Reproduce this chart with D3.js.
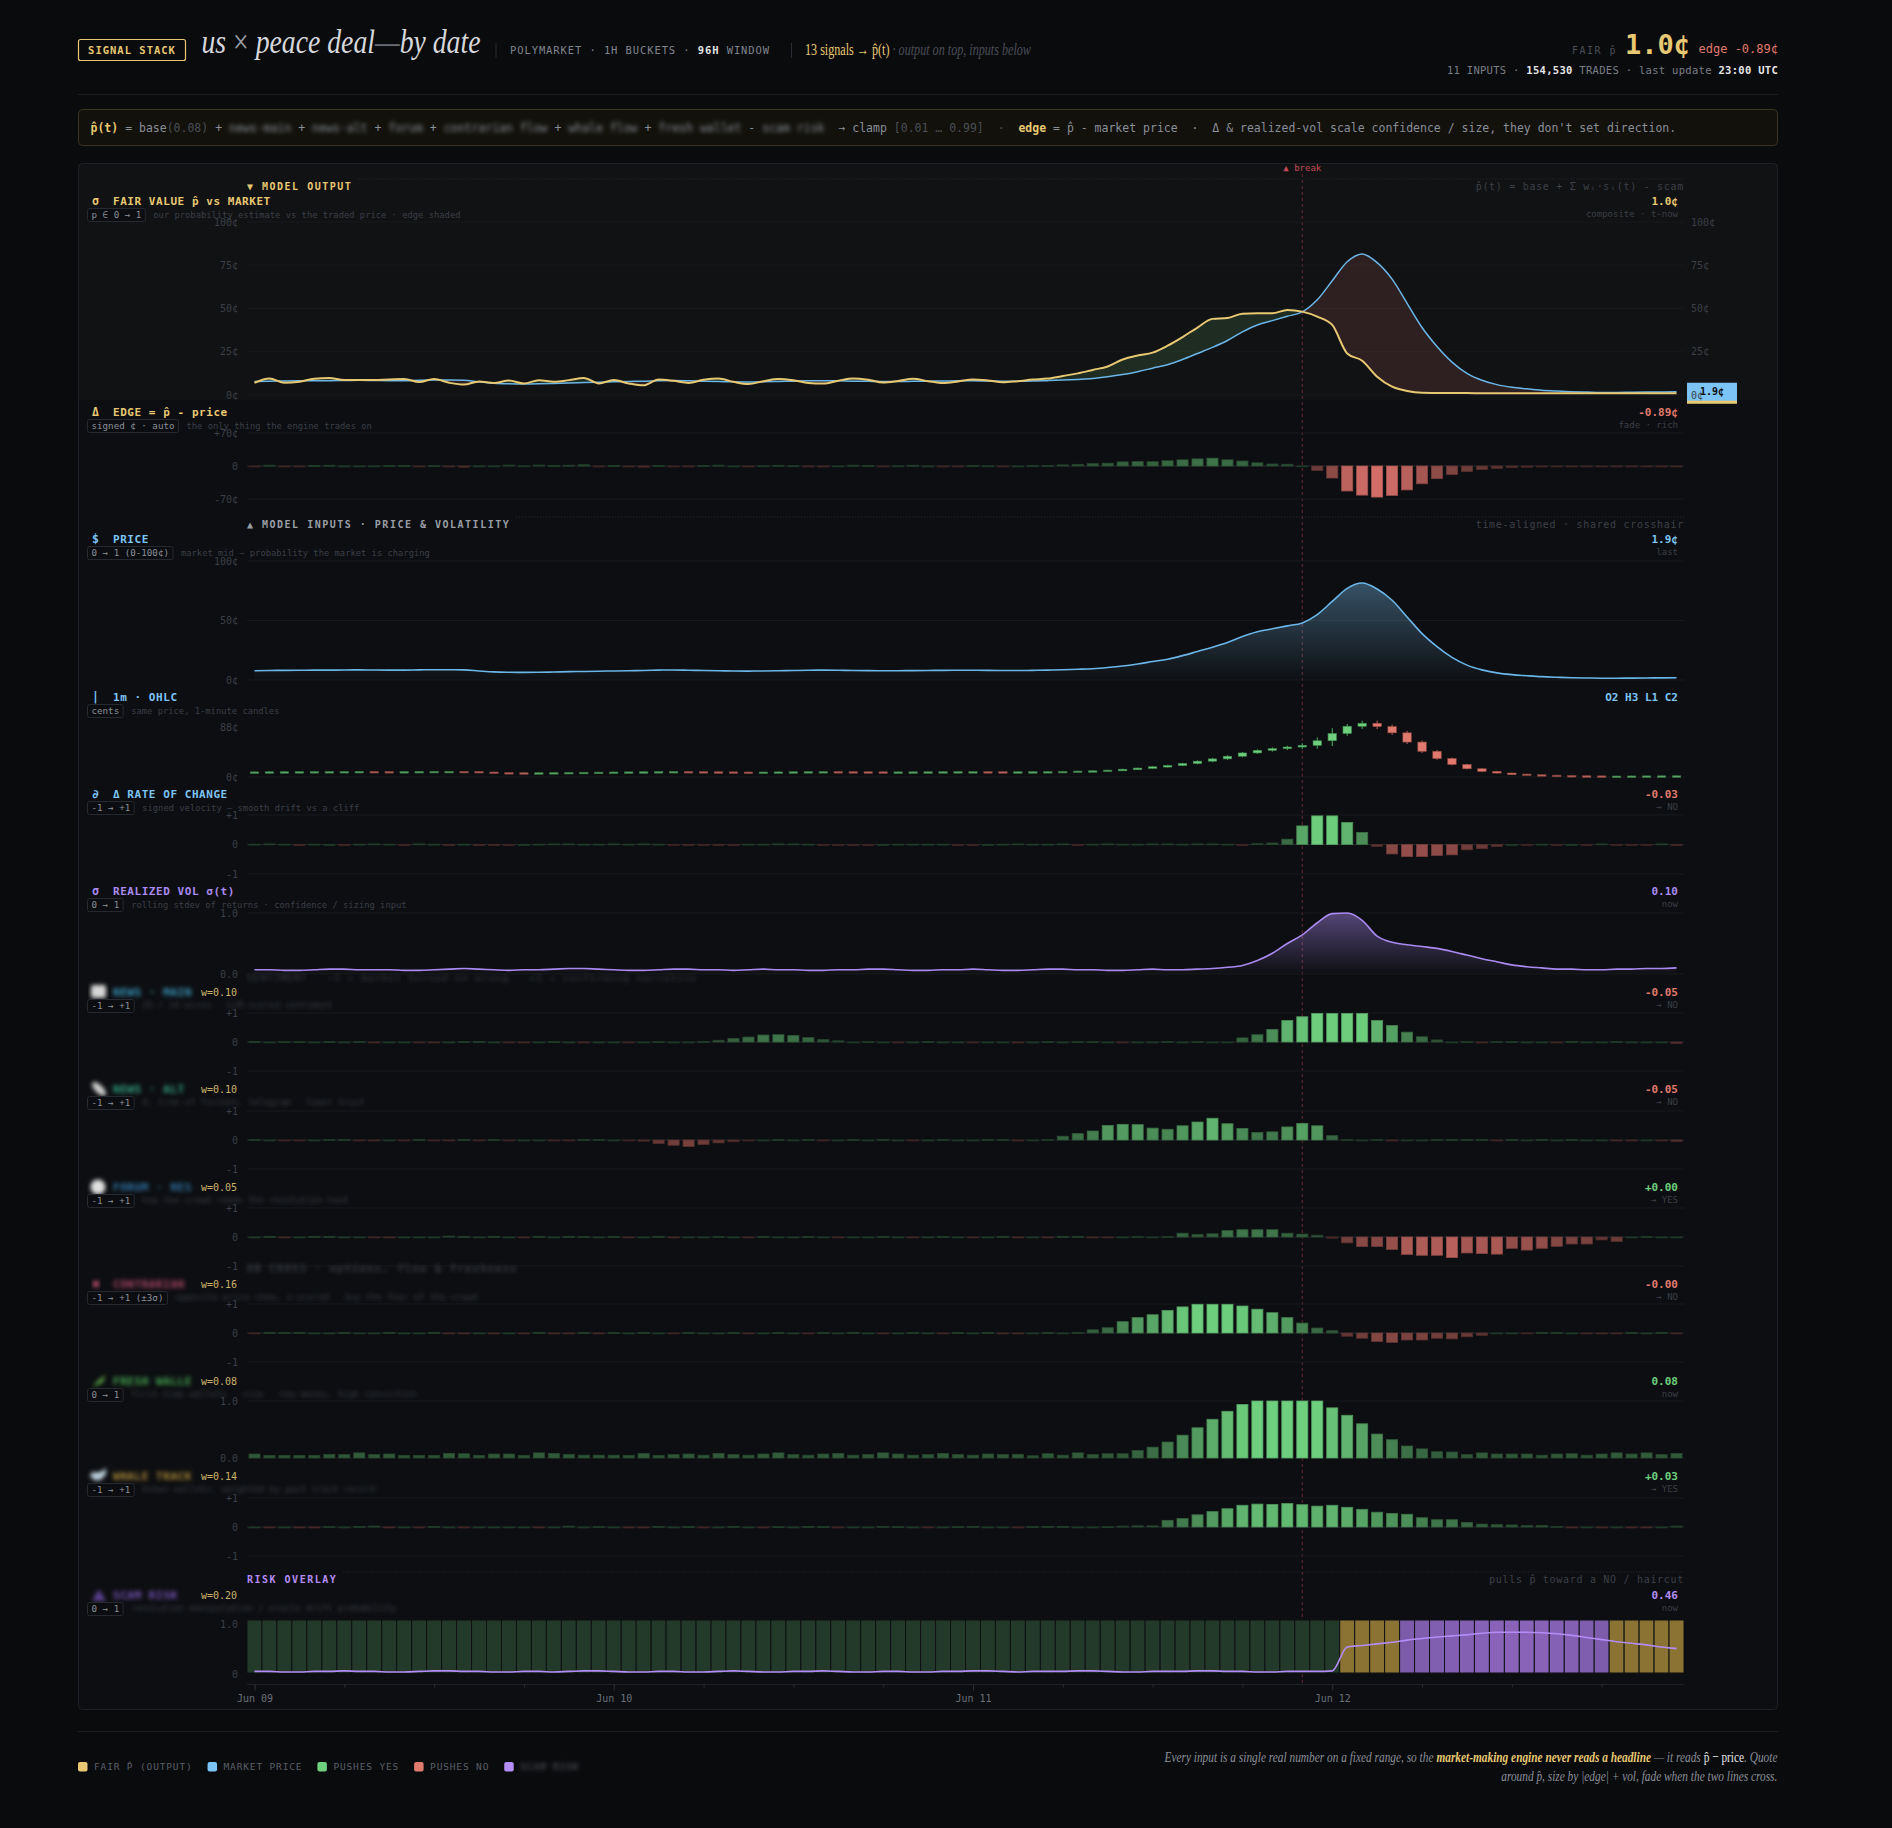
<!DOCTYPE html>
<html>
<head>
<meta charset="utf-8">
<script src="https://cdn.jsdelivr.net/npm/d3@7"></script>
<style>
  body { margin: 0; background: #0a0b0d; }
  svg text { font-family: "DejaVu Sans Mono", monospace; white-space: pre; }
</style>
</head>
<body>
<script>
// ---------- data (one value per 1h bucket, 96 buckets from Jun 09 00:00 UTC) ----------
var hours = d3.range(96);
var dayTicks = [0, 24, 48, 72];
var dayLabels = ["Jun 09", "Jun 10", "Jun 11", "Jun 12"];
var breakHour = 70;

// market mid, cents
var price = [
  7.8, 8.0, 8.1, 8.2, 8.3, 8.3, 8.4, 8.5, 8.4, 8.3, 8.3, 8.5,
  8.6, 8.6, 8.5, 7.6, 6.8, 6.5, 6.4, 6.5, 6.7, 7.0, 7.2, 7.4,
  7.6, 7.8, 8.0, 8.3, 8.4, 8.2, 8.0, 7.8, 7.6, 7.5, 7.6, 7.8,
  8.0, 8.2, 8.3, 8.2, 8.0, 7.9, 7.8, 7.8, 7.9, 8.0, 8.1, 8.2,
  8.2, 8.1, 8.0, 8.0, 8.1, 8.3, 8.6, 9.0, 9.5, 10.5, 11.8, 13.5,
  15.5, 17.5, 20.5, 24.0, 27.5, 31.5, 36.5, 40.5, 43.0, 45.5, 48.0, 55.0,
  66.0, 77.0, 81.5, 76.5, 67.0, 53.0, 39.0, 28.0, 19.0, 12.5, 8.5, 6.0,
  4.5, 3.6, 2.8, 2.3, 1.9, 1.7, 1.5, 1.5, 1.6, 1.7, 1.8, 1.89
];
// model fair value p-hat, cents
var fair = [
  7.1, 9.6, 7.1, 7.7, 9.4, 9.8, 8.6, 8.6, 8.6, 9.0, 9.2, 7.5,
  9.2, 7.1, 6.0, 7.8, 7.0, 8.4, 6.7, 8.5, 7.7, 8.6, 9.8, 6.7,
  8.6, 6.7, 5.6, 9.0, 8.2, 7.0, 8.8, 9.5, 7.6, 6.4, 8.0, 9.2,
  8.5, 7.0, 6.6, 8.3, 9.6, 8.8, 7.2, 8.1, 9.4, 8.0, 6.9, 7.8,
  9.0, 8.4, 7.3, 8.0, 8.9, 9.5, 11.0, 12.5, 14.5, 16.5, 20.5, 22.8,
  24.5, 28.5, 33.5, 39.0, 44.0, 44.5, 47.0, 47.2, 47.2, 49.2, 48.2, 45.3,
  40.5, 24.0, 19.8, 10.6, 4.8, 2.3, 1.3, 1.2, 1.1, 1.1, 1.0, 1.0,
  1.0, 1.0, 1.0, 1.0, 1.0, 1.0, 1.0, 1.0, 1.0, 1.0, 1.0, 1.0
];
// extra wick beyond the candle body, cents
var ohlcWick = [
  0.4, 0.3, 0.5, 0.4, 0.3, 0.4, 0.5, 0.3, 0.4, 0.4, 0.3, 0.5,
  0.4, 0.3, 0.4, 0.5, 0.4, 0.3, 0.4, 0.3, 0.4, 0.5, 0.4, 0.3,
  0.4, 0.3, 0.5, 0.4, 0.3, 0.4, 0.4, 0.3, 0.5, 0.4, 0.3, 0.4,
  0.5, 0.4, 0.3, 0.4, 0.3, 0.4, 0.5, 0.4, 0.3, 0.4, 0.4, 0.3,
  0.4, 0.5, 0.3, 0.4, 0.4, 0.5, 0.6, 0.6, 0.7, 0.7, 0.8, 0.8,
  0.8, 1.0, 1.0, 1.2, 1.5, 1.5, 1.5, 1.5, 2.0, 2.0, 3.0, 5.0,
  8.0, 3.5, 4.0, 4.0, 3.0, 3.0, 2.5, 2.0, 1.5, 1.0, 1.0, 0.8,
  0.6, 0.5, 0.5, 0.5, 0.4, 0.4, 0.4, 0.4, 0.4, 0.4, 0.4, 1.0
];
var roc = [
  0.01, 0.02, 0.01, -0.03, 0.01, 0.00, -0.02, 0.01, 0.02, 0.01, -0.01, 0.02,
  0.01, -0.02, 0.01, -0.03, -0.02, -0.01, 0.00, 0.01, 0.02, 0.02, 0.01, 0.01,
  0.02, 0.01, 0.02, 0.01, -0.01, -0.02, -0.01, -0.02, -0.01, 0.01, 0.01, 0.02,
  0.02, 0.01, -0.01, -0.01, -0.01, -0.01, 0.00, 0.01, 0.01, 0.01, 0.01, -0.01,
  -0.01, 0.00, 0.01, 0.02, 0.01, 0.01, 0.02, -0.01, 0.01, 0.02, 0.01, 0.01,
  0.02, 0.02, 0.01, 0.02, 0.02, 0.01, -0.01, 0.03, 0.05, 0.18, 0.63, 0.97,
  0.97, 0.75, 0.41, -0.07, -0.32, -0.41, -0.41, -0.37, -0.35, -0.18, -0.14, -0.07,
  0.00, -0.01, 0.01, -0.01, 0.00, -0.01, 0.02, -0.01, -0.01, -0.01, 0.02, -0.03
];
var vol = [
  0.07, 0.07, 0.06, 0.06, 0.07, 0.08, 0.08, 0.07, 0.07, 0.07, 0.06, 0.06,
  0.07, 0.08, 0.09, 0.08, 0.07, 0.06, 0.07, 0.07, 0.08, 0.09, 0.09, 0.08,
  0.07, 0.06, 0.06, 0.07, 0.08, 0.08, 0.07, 0.07, 0.06, 0.07, 0.08, 0.07,
  0.07, 0.06, 0.06, 0.07, 0.07, 0.08, 0.08, 0.07, 0.06, 0.06, 0.07, 0.07,
  0.08, 0.07, 0.06, 0.06, 0.07, 0.08, 0.08, 0.07, 0.07, 0.06, 0.06, 0.07,
  0.08, 0.07, 0.07, 0.08, 0.09, 0.11, 0.14, 0.22, 0.34, 0.50, 0.64, 0.84,
  0.99, 1.00, 0.88, 0.62, 0.52, 0.48, 0.45, 0.42, 0.37, 0.31, 0.25, 0.20,
  0.15, 0.12, 0.10, 0.08, 0.08, 0.07, 0.07, 0.08, 0.08, 0.09, 0.09, 0.10
];
var newsMain = [
  0.02, 0.00, 0.01, 0.01, 0.00, 0.01, 0.00, 0.01, -0.02, 0.00, 0.00, -0.01,
  -0.02, 0.00, 0.01, 0.02, 0.00, -0.01, -0.02, 0.00, 0.01, 0.00, -0.02, 0.00,
  0.00, -0.01, 0.00, 0.01, 0.00, 0.00, 0.02, 0.06, 0.12, 0.17, 0.24, 0.25,
  0.22, 0.15, 0.08, 0.04, 0.00, 0.01, 0.00, -0.01, 0.00, 0.01, 0.00, 0.00,
  -0.01, 0.00, 0.00, -0.02, 0.00, 0.01, 0.00, 0.01, 0.01, 0.00, -0.01, 0.00,
  0.00, 0.01, 0.00, 0.01, 0.00, 0.00, 0.14, 0.25, 0.43, 0.74, 0.87, 0.98,
  0.98, 0.98, 0.98, 0.74, 0.57, 0.34, 0.18, 0.07, 0.00, 0.01, -0.02, 0.01,
  0.01, 0.00, 0.00, -0.02, 0.02, 0.00, 0.00, 0.01, 0.00, 0.00, 0.00, -0.05
];
var newsAlt = [
  0.01, 0.00, -0.01, -0.01, 0.00, 0.01, 0.02, -0.01, -0.02, 0.00, -0.01, 0.02,
  -0.01, -0.02, 0.02, -0.01, 0.01, -0.01, 0.00, 0.00, -0.01, -0.01, 0.02, 0.01,
  0.00, -0.01, -0.04, -0.12, -0.18, -0.22, -0.15, -0.10, -0.06, -0.02, 0.00, 0.01,
  0.00, 0.01, -0.01, 0.00, 0.01, 0.00, 0.02, 0.00, -0.01, 0.00, 0.01, 0.00,
  0.00, 0.01, 0.01, -0.02, 0.00, 0.01, 0.13, 0.22, 0.31, 0.50, 0.54, 0.53,
  0.41, 0.37, 0.49, 0.62, 0.75, 0.56, 0.40, 0.26, 0.28, 0.45, 0.57, 0.49,
  0.15, 0.01, 0.00, 0.01, -0.02, 0.00, 0.00, 0.01, 0.02, 0.02, 0.02, -0.02,
  0.02, 0.00, 0.02, 0.00, 0.01, 0.00, 0.00, -0.03, -0.02, 0.00, -0.02, -0.05
];
var forum = [
  0.00, 0.02, -0.02, 0.00, 0.02, 0.02, 0.00, 0.00, -0.01, -0.02, 0.00, 0.00,
  0.00, 0.03, 0.02, 0.00, 0.02, 0.00, -0.01, 0.02, 0.00, 0.02, 0.01, 0.00,
  0.01, -0.01, 0.00, 0.02, -0.02, 0.00, 0.00, 0.01, 0.00, -0.01, 0.01, 0.00,
  0.00, 0.01, 0.00, -0.01, 0.00, 0.00, 0.01, 0.00, -0.01, 0.00, 0.01, 0.00,
  -0.01, 0.00, 0.02, -0.03, 0.00, -0.02, 0.02, 0.02, -0.02, -0.01, 0.00, 0.01,
  0.00, 0.01, 0.13, 0.09, 0.11, 0.22, 0.25, 0.25, 0.25, 0.13, 0.10, 0.06,
  -0.04, -0.20, -0.33, -0.33, -0.43, -0.60, -0.63, -0.63, -0.71, -0.55, -0.57, -0.59,
  -0.39, -0.45, -0.39, -0.32, -0.24, -0.24, -0.10, -0.15, 0.00, 0.01, 0.00, 0.00
];
var contrarian = [
  -0.01, 0.02, 0.01, 0.02, 0.00, 0.00, 0.02, 0.00, 0.00, 0.02, 0.00, 0.00,
  0.02, -0.02, -0.02, 0.00, -0.02, 0.00, -0.01, 0.02, -0.02, -0.02, 0.02, -0.02,
  0.01, 0.00, 0.02, 0.00, -0.01, 0.01, 0.00, 0.00, 0.01, -0.01, 0.00, 0.01,
  0.00, -0.01, 0.01, 0.00, 0.02, 0.00, -0.01, 0.00, 0.01, 0.00, -0.01, 0.01,
  0.00, 0.01, -0.02, -0.02, 0.00, 0.02, 0.00, 0.02, 0.11, 0.18, 0.39, 0.53,
  0.63, 0.78, 0.90, 0.99, 0.99, 0.99, 0.93, 0.82, 0.70, 0.53, 0.34, 0.17,
  0.08, -0.11, -0.18, -0.29, -0.32, -0.24, -0.24, -0.18, -0.20, -0.13, -0.08, 0.00,
  0.00, -0.01, 0.02, 0.01, 0.00, -0.01, -0.02, -0.01, 0.02, 0.00, 0.02, -0.004
];
var freshWallets = [
  0.07, 0.047, 0.047, 0.047, 0.047, 0.064, 0.06, 0.09, 0.06, 0.07, 0.047, 0.047,
  0.047, 0.08, 0.075, 0.047, 0.07, 0.07, 0.047, 0.09, 0.08, 0.064, 0.05, 0.05,
  0.05, 0.047, 0.08, 0.047, 0.06, 0.07, 0.05, 0.08, 0.06, 0.05, 0.07, 0.09,
  0.06, 0.05, 0.07, 0.08, 0.05, 0.06, 0.09, 0.07, 0.05, 0.06, 0.08, 0.06,
  0.05, 0.07, 0.06, 0.065, 0.04, 0.075, 0.05, 0.09, 0.06, 0.075, 0.075, 0.13,
  0.19, 0.28, 0.40, 0.53, 0.68, 0.82, 0.94, 1.00, 1.00, 1.00, 1.00, 1.00,
  0.88, 0.75, 0.60, 0.42, 0.32, 0.21, 0.16, 0.11, 0.105, 0.06, 0.09, 0.07,
  0.07, 0.07, 0.05, 0.07, 0.075, 0.05, 0.07, 0.09, 0.07, 0.09, 0.06, 0.08
];
var whale = [
  0.00, -0.02, 0.00, -0.03, -0.03, 0.01, 0.00, 0.02, 0.03, -0.03, 0.00, -0.01,
  0.02, 0.00, -0.02, 0.00, 0.00, 0.00, 0.00, -0.02, 0.00, 0.03, 0.00, 0.01,
  0.00, -0.02, -0.02, 0.02, 0.00, 0.01, -0.01, 0.00, 0.02, 0.00, -0.01, 0.01,
  0.00, 0.02, 0.01, -0.01, 0.00, 0.00, 0.02, 0.01, 0.00, -0.01, 0.00, 0.01,
  0.02, 0.00, 0.00, -0.01, 0.01, 0.02, 0.02, 0.00, 0.00, 0.01, 0.03, 0.04,
  0.04, 0.23, 0.29, 0.42, 0.53, 0.63, 0.75, 0.79, 0.78, 0.81, 0.77, 0.72,
  0.75, 0.68, 0.61, 0.51, 0.47, 0.44, 0.32, 0.25, 0.25, 0.16, 0.10, 0.08,
  0.07, 0.05, 0.05, 0.02, -0.03, 0.00, -0.02, 0.00, -0.02, -0.03, 0.00, 0.03
];
var scam = [
  0.03, 0.03, 0.02, 0.02, 0.03, 0.03, 0.04, 0.03, 0.03, 0.02, 0.02, 0.03,
  0.04, 0.04, 0.03, 0.03, 0.02, 0.02, 0.03, 0.03, 0.02, 0.03, 0.04, 0.04,
  0.03, 0.02, 0.02, 0.03, 0.03, 0.02, 0.02, 0.03, 0.04, 0.03, 0.02, 0.02,
  0.03, 0.03, 0.04, 0.03, 0.02, 0.02, 0.03, 0.03, 0.02, 0.02, 0.03, 0.03,
  0.04, 0.04, 0.03, 0.02, 0.03, 0.03, 0.03, 0.04, 0.04, 0.03, 0.02, 0.02,
  0.03, 0.03, 0.03, 0.04, 0.04, 0.03, 0.03, 0.02, 0.02, 0.03, 0.03, 0.03,
  0.04, 0.49, 0.52, 0.55, 0.58, 0.62, 0.65, 0.68, 0.70, 0.72, 0.75, 0.77,
  0.77, 0.77, 0.76, 0.74, 0.71, 0.67, 0.63, 0.59, 0.56, 0.53, 0.49, 0.46
];
var signalWeights = [0.10, 0.10, 0.05, 0.16, 0.08, 0.14, 0.20];

// tick labels per row
var centTicks = [0, 25, 50, 75, 100];
var edgeTicks = [70, 0, -70];
var priceTicks = [100, 50, 0];
var ohlcTicks = [88, 0];
var signedTicks = [1, 0, -1];
var unitTicks = [1, 0];

// ---------- colours ----------
var YEL = "#e8c872", BLU = "#7cc4f5", GRN = "#6ecf7e", RED = "#e07a6e", PUR = "#a98af0";
var DIM = "#3b3f47", MID = "#8a8f98";
var SERIF = "'Liberation Serif', 'DejaVu Serif', serif";

// ---------- helpers ----------
var W = 1892, H = 1828;
var X0 = 247, X1 = 1684;
var svg = d3.select("body").append("svg").attr("width", W).attr("height", H);
var defs = svg.append("defs");
defs.append("filter").attr("id", "blur").attr("x", "-20%").attr("y", "-80%").attr("width", "140%").attr("height", "260%")
  .append("feGaussianBlur").attr("stdDeviation", 2.3);

svg.append("rect").attr("width", W).attr("height", H).attr("fill", "#0a0b0d");

var x = d3.scaleBand().domain(hours).range([X0, X1]).paddingInner(0.26).paddingOuter(0.13);
var xc = function (i) { return x(i) + x.bandwidth() / 2; };
var curve = d3.curveMonotoneX;

function txt(g, px, py, s, o) {
  o = o || {};
  return g.append("text").attr("x", px).attr("y", py)
    .attr("dy", o.dy === undefined ? "0.35em" : o.dy)
    .attr("font-size", o.size || 10)
    .attr("fill", o.fill || MID)
    .attr("font-weight", o.weight || null)
    .attr("font-style", o.style || null)
    .style("font-family", o.font || null)
    .attr("letter-spacing", o.ls || null)
    .attr("text-anchor", o.anchor || "start")
    .attr("opacity", o.opacity || null)
    .attr("filter", o.blur ? "url(#blur)" : null)
    .text(s);
}
// sequential text pieces, returns the group and its width
function rich(parent, parts, base) {
  var g = parent.append("g");
  var cx = 0;
  parts.forEach(function (p) {
    var t = txt(g, cx, 0, p.t, Object.assign({}, base, p));
    cx += t.node().getComputedTextLength();
  });
  return { g: g, w: cx };
}
function signed(v) { return (v < 0 ? "-" : "+") + Math.abs(v).toFixed(2); }
function barColor(t) {
  var a = Math.pow(Math.min(1, Math.abs(t)), 0.75);
  return t >= 0 ? d3.interpolateRgb("#26452f", GRN)(a) : d3.interpolateRgb("#4a2b2a", "#d8706a")(a);
}
function vGrad(id, color, y1, y2, op) {
  var g = defs.append("linearGradient").attr("id", id).attr("gradientUnits", "userSpaceOnUse")
    .attr("x1", 0).attr("x2", 0).attr("y1", y1).attr("y2", y2);
  g.append("stop").attr("offset", 0).attr("stop-color", color).attr("stop-opacity", op);
  g.append("stop").attr("offset", 1).attr("stop-color", color).attr("stop-opacity", 0.01);
}

// ---------- header ----------
var head = svg.append("g");
head.append("rect").attr("x", 78.5).attr("y", 39.5).attr("width", 107).attr("height", 21).attr("rx", 2)
  .attr("fill", "none").attr("stroke", YEL).attr("stroke-width", 1.2);
txt(head, 132, 50.5, "SIGNAL STACK", { anchor: "middle", size: 10.5, weight: "bold", ls: 1, fill: YEL });

var title = rich(head, [
  { t: "us " }, { t: "×", style: "normal", fill: "#9a9ea6" }, { t: " peace deal" },
  { t: "—", fill: "#6a6e76" }, { t: "by date" }
], { font: SERIF, style: "italic", size: 33, fill: "#d6d8dc", dy: 0 });
title.g.attr("transform", "translate(201.5,53) scale(" + (279 / title.w) + ",1)");

head.append("line").attr("x1", 496).attr("x2", 496).attr("y1", 43).attr("y2", 58).attr("stroke", "#2a2d33");
var sub = rich(head, [
  { t: "POLYMARKET · 1H BUCKETS · " }, { t: "96H", weight: "bold", fill: "#e4e4e4" }, { t: " WINDOW" }
], { size: 10.5, ls: 0.9, fill: "#80858e" });
sub.g.attr("transform", "translate(510,50.5)");
head.append("line").attr("x1", 791.5).attr("x2", 791.5).attr("y1", 43).attr("y2", 58).attr("stroke", "#2a2d33");
var sig = rich(head, [
  { t: "13 signals → p̂(t)", fill: YEL }, { t: " · output on top, inputs below", style: "italic", fill: "#4a4e57" }
], { font: SERIF, size: 16, dy: 0 });
sig.g.attr("transform", "translate(805,55) scale(" + (226 / sig.w) + ",1)");

var lastFair = fair[95], lastPrice = price[95], lastEdge = lastFair - lastPrice;
txt(head, 1778, 49, "edge " + (lastEdge < 0 ? "-" : "+") + Math.abs(lastEdge).toFixed(2) + "¢", { anchor: "end", size: 12, fill: RED, dy: "0.32em" });
txt(head, 1690, 44, lastFair.toFixed(1) + "¢", { anchor: "end", size: 27, weight: "bold", fill: YEL, dy: "0.36em" });
txt(head, 1617, 50, "FAIR p̂", { anchor: "end", size: 10, ls: 1.5, fill: "#4a4e56" });
var stats = rich(head, [
  { t: "11 INPUTS · " }, { t: "154,530", weight: "bold", fill: "#e6e6e6" },
  { t: " TRADES · last update " }, { t: "23:00 UTC", weight: "bold", fill: "#e6e6e6" }
], { size: 10.5, ls: 0.3, fill: "#7a7f88" });
stats.g.attr("transform", "translate(" + (1778 - stats.w) + ",70.5)");

svg.append("line").attr("x1", 78).attr("x2", 1778).attr("y1", 94.5).attr("y2", 94.5).attr("stroke", "#1c1e24");

// formula strip
svg.append("rect").attr("x", 78.5).attr("y", 109.5).attr("width", 1699).attr("height", 36).attr("rx", 4)
  .attr("fill", "#12110c").attr("stroke", "#3a3420");
var fx = rich(svg, [
  { t: "p̂(t)", weight: "bold", fill: YEL }, { t: " = base" }, { t: "(0.08)", fill: "#4a4e56" }, { t: " + " },
  { t: "news·main", blur: true }, { t: " + " }, { t: "news·alt", blur: true }, { t: " + " },
  { t: "forum", blur: true }, { t: " + " }, { t: "contrarian flow", blur: true }, { t: " + " },
  { t: "whale flow", blur: true }, { t: " + " }, { t: "fresh wallet", blur: true }, { t: " - " },
  { t: "scam risk", blur: true }, { t: "  → clamp " }, { t: "[0.01 … 0.99]", fill: "#4a4e56" },
  { t: "  ·  ", fill: "#4a4e56" }, { t: "edge", weight: "bold", fill: YEL },
  { t: " = p̂ - market price  ·  Δ & realized-vol scale confidence / size, they don't set direction." }
], { size: 11.5, fill: "#8a8f98" });
fx.g.attr("transform", "translate(90.5,127.7)");

// ---------- main panel ----------
svg.append("rect").attr("x", 78.5).attr("y", 163.5).attr("width", 1699).attr("height", 1546).attr("rx", 4)
  .attr("fill", "#0d0e11").attr("stroke", "#1d2026");
svg.append("rect").attr("x", 79).attr("y", 164).attr("width", 1698).attr("height", 236)
  .attr("fill", YEL).attr("opacity", 0.022);

var gGrid = svg.append("g");
var gMarks = svg.append("g");
var gText = svg.append("g");

function grid(py, strong) {
  gGrid.append("line").attr("x1", X0).attr("x2", X1).attr("y1", py).attr("y2", py)
    .attr("stroke", strong ? "#23262c" : "#17191d");
}
function tickL(py, s) { txt(gText, 238, py, s, { anchor: "end", size: 10, fill: DIM }); }

function sectionHead(py, label, color, right) {
  var t = txt(gText, X0, py, label, { size: 10, weight: "bold", ls: 1.5, fill: color });
  var w = t.node().getComputedTextLength();
  gGrid.append("line").attr("x1", X0 + w + 6).attr("x2", X1).attr("y1", py - 7).attr("y2", py - 7)
    .attr("stroke", "#2a2c33").attr("stroke-dasharray", "1,2");
  txt(gText, X1, py, right, { anchor: "end", size: 10, ls: 0.7, fill: "#3d4048" });
}

function rowLabel(r) {
  if (r.icon) txt(gText, 92, r.ty, r.icon, { size: 11.5, weight: "bold", fill: r.color });
  var wl = null;
  if (r.weight !== undefined) wl = txt(gText, 237, r.ty, "w=" + r.weight.toFixed(2), { anchor: "end", size: 10, fill: "#c9b26a" });
  var tt = txt(gText, 113, r.ty, r.title, { size: 11, weight: "bold", ls: 0.55, fill: r.color, blur: r.blurTitle });
  if (wl) {
    // the blurred name fades out right where the weight label starts
    var room = 237 - wl.node().getComputedTextLength() - 3 - 113;
    var s = r.title;
    while (s.length > 1 && tt.node().getComputedTextLength() > room) { s = s.slice(0, -1); tt.text(s); }
  }
  var by = r.ty + 14;
  var bt = txt(gText, 91.5, by, r.badge, { size: 9.2, fill: MID });
  var bw = bt.node().getComputedTextLength();
  gText.insert("rect", "text:last-child").attr("x", 87.5).attr("y", by - 6.5).attr("width", bw + 8).attr("height", 13).attr("rx", 2)
    .attr("fill", "#0c0d10").attr("stroke", "#262930");
  txt(gText, 87.5 + bw + 8 + 8, by - (r.blurDesc ? 1.5 : 0.5), r.desc, { size: 8.8, fill: DIM, blur: r.blurDesc });
  txt(gText, 1678, r.ty, r.value, { anchor: "end", size: 11, weight: "bold", fill: r.valueColor });
  if (r.sub) txt(gText, 1678, r.ty + 13, r.sub, { anchor: "end", size: 9, fill: DIM });
}

function barsRow(arr, y, maxAbs) {
  gMarks.append("g").selectAll("rect").data(arr).join("rect")
    .attr("x", function (d, i) { return x(i); }).attr("width", x.bandwidth())
    .attr("y", function (d) { return Math.min(y(0), y(d)); })
    .attr("height", function (d) { return Math.max(Math.abs(y(d) - y(0)), 0.9); })
    .attr("fill", function (d) { return barColor(d / maxAbs); })
    .attr("stroke", function (d) { return d3.color(barColor(d / maxAbs)).darker(0.6); })
    .attr("stroke-width", 0.8);
}

// break marker
gGrid.append("line").attr("x1", xc(breakHour)).attr("x2", xc(breakHour)).attr("y1", 174).attr("y2", 1684)
  .attr("stroke", "#6a2a35").attr("stroke-dasharray", "3,3");
txt(gText, xc(breakHour), 168, "▲ break", { anchor: "middle", size: 9, fill: "#c04a58" });

// ---- MODEL OUTPUT ----
sectionHead(186, "▼ MODEL OUTPUT", YEL, "p̂(t) = base + Σ wᵢ·sᵢ(t) - scam");

// row 1: fair value vs market
var yF = d3.scaleLinear().domain([0, 100]).range([395, 222]);
centTicks.forEach(function (v) { grid(yF(v)); tickL(yF(v), v + "¢"); });
var areaUp = function (arr) { return d3.area().x(function (d, i) { return xc(i); }).y0(200).y1(function (d) { return yF(d); }).curve(curve)(arr); };
var areaDn = function (arr) { return d3.area().x(function (d, i) { return xc(i); }).y0(yF(0)).y1(function (d) { return yF(d); }).curve(curve)(arr); };
defs.append("clipPath").attr("id", "abovePrice").append("path").attr("d", areaUp(price));
defs.append("clipPath").attr("id", "aboveFair").append("path").attr("d", areaUp(fair));
gMarks.append("path").attr("d", areaDn(fair)).attr("fill", GRN).attr("fill-opacity", 0.14).attr("clip-path", "url(#abovePrice)");
gMarks.append("path").attr("d", areaDn(price)).attr("fill", RED).attr("fill-opacity", 0.14).attr("clip-path", "url(#aboveFair)");
var lineF = d3.line().x(function (d, i) { return xc(i); }).y(function (d) { return yF(d); }).curve(curve);
gMarks.append("path").attr("d", lineF(price)).attr("fill", "none").attr("stroke", "#6bb6e8").attr("stroke-width", 1.5);
gMarks.append("path").attr("d", lineF(fair)).attr("fill", "none").attr("stroke", YEL).attr("stroke-width", 2);
// end badges
gMarks.append("rect").attr("x", 1687).attr("y", yF(lastFair) - 9 + 1.5).attr("width", 50).attr("height", 18).attr("fill", YEL);
gMarks.append("rect").attr("x", 1687).attr("y", yF(lastPrice) - 9).attr("width", 50).attr("height", 18).attr("fill", BLU);
txt(gMarks, 1712, yF(lastPrice), lastPrice.toFixed(1) + "¢", { anchor: "middle", size: 10, weight: "bold", fill: "#0a0b0d" });
centTicks.forEach(function (v) { txt(gText, 1691, yF(v), v + "¢", { size: 10, fill: DIM }); });
rowLabel({ ty: 201, icon: "σ", title: "FAIR VALUE p̂ vs MARKET", color: YEL, badge: "p ∈ 0 → 1",
  desc: "our probability estimate vs the traded price · edge shaded",
  value: lastFair.toFixed(1) + "¢", valueColor: YEL, sub: "composite · t-now" });

// row 2: edge
var edge = fair.map(function (f, i) { return f - price[i]; });
var yE = d3.scaleLinear().domain([-70, 70]).range([499, 433]);
edgeTicks.forEach(function (v) { grid(yE(v), v === 0); tickL(yE(v), v === 0 ? "0" : (v > 0 ? "+" : "-") + Math.abs(v) + "¢"); });
barsRow(edge, yE, 70);
rowLabel({ ty: 412, icon: "Δ", title: "EDGE = p̂ - price", color: YEL, badge: "signed ¢ · auto",
  desc: "the only thing the engine trades on",
  value: (lastEdge < 0 ? "-" : "+") + Math.abs(lastEdge).toFixed(2) + "¢", valueColor: RED, sub: "fade · rich" });

// ---- MODEL INPUTS ----
sectionHead(524, "▲ MODEL INPUTS · PRICE & VOLATILITY", "#9a9ea6", "time-aligned · shared crosshair");

// row 3: price
var yP = d3.scaleLinear().domain([0, 100]).range([680, 561]);
priceTicks.forEach(function (v) { grid(yP(v)); tickL(yP(v), v + "¢"); });
vGrad("priceGrad", BLU, 561, 680, 0.45);
gMarks.append("path").attr("d", d3.area().x(function (d, i) { return xc(i); }).y0(yP(0)).y1(function (d) { return yP(d); }).curve(curve)(price))
  .attr("fill", "url(#priceGrad)");
gMarks.append("path").attr("d", d3.line().x(function (d, i) { return xc(i); }).y(function (d) { return yP(d); }).curve(curve)(price))
  .attr("fill", "none").attr("stroke", "#6bb6e8").attr("stroke-width", 1.6);
rowLabel({ ty: 539, icon: "$", title: "PRICE", color: BLU, badge: "0 → 1 (0-100¢)",
  desc: "market mid — probability the market is charging",
  value: lastPrice.toFixed(1) + "¢", valueColor: BLU, sub: "last" });

// row 4: 1m OHLC
var yO = d3.scaleLinear().domain([0, 88]).range([777, 719]);
grid(yO(0));
ohlcTicks.forEach(function (v) { tickL(yO(v) + (v ? 8 : 0), v + "¢"); });
var candles = price.map(function (c, i) {
  var o = i ? price[i - 1] : c;
  return { i: i, o: o, c: c, h: Math.max(o, c) + ohlcWick[i], l: Math.min(o, c) - ohlcWick[i] };
});
var cw = x.bandwidth() * 0.76;
var gC = gMarks.append("g").selectAll("g").data(candles).join("g")
  .attr("opacity", function (d) { return Math.abs(d.c - d.o) > 1 ? 1 : 0.8; });
gC.append("line").attr("x1", function (d) { return xc(d.i); }).attr("x2", function (d) { return xc(d.i); })
  .attr("y1", function (d) { return yO(d.h); }).attr("y2", function (d) { return yO(d.l); })
  .attr("stroke", function (d) { return d.c >= d.o ? "#4fae60" : "#c05f58"; }).attr("stroke-width", 1);
gC.append("rect").attr("x", function (d) { return xc(d.i) - cw / 2; }).attr("width", cw)
  .attr("y", function (d) { return yO(Math.max(d.o, d.c)); })
  .attr("height", function (d) { return Math.max(1.6, Math.abs(yO(d.o) - yO(d.c))); })
  .attr("fill", function (d) { return d.c >= d.o ? GRN : RED; })
  .attr("stroke", function (d) { return d.c >= d.o ? "#3f8a4e" : "#9a4a45"; }).attr("stroke-width", 0.6);
var lc = candles[95];
rowLabel({ ty: 697, icon: "|", title: "1m · OHLC", color: BLU, badge: "cents",
  desc: "same price, 1-minute candles",
  value: "O" + Math.round(lc.o) + " H" + Math.round(lc.h) + " L" + Math.round(lc.l) + " C" + Math.round(lc.c),
  valueColor: BLU, sub: "" });

// row 5: rate of change
var yR = d3.scaleLinear().domain([-1, 1]).range([874, 815]);
signedTicks.forEach(function (v) { grid(yR(v), v === 0); tickL(yR(v), v > 0 ? "+1" : String(v)); });
barsRow(roc, yR, 1);
rowLabel({ ty: 794, icon: "∂", title: "Δ RATE OF CHANGE", color: BLU, badge: "-1 → +1",
  desc: "signed velocity — smooth drift vs a cliff",
  value: signed(roc[95]), valueColor: roc[95] < 0 ? RED : GRN, sub: roc[95] < 0 ? "→ NO" : "→ YES" });

// row 6: realized vol
var yV = d3.scaleLinear().domain([0, 1]).range([974, 913]);
unitTicks.forEach(function (v) { grid(yV(v)); tickL(yV(v), v.toFixed(1)); });
vGrad("volGrad", PUR, 913, 974, 0.45);
gMarks.append("path").attr("d", d3.area().x(function (d, i) { return xc(i); }).y0(yV(0)).y1(function (d) { return yV(d); }).curve(curve)(vol))
  .attr("fill", "url(#volGrad)");
gMarks.append("path").attr("d", d3.line().x(function (d, i) { return xc(i); }).y(function (d) { return yV(d); }).curve(curve)(vol))
  .attr("fill", "none").attr("stroke", PUR).attr("stroke-width", 1.6);
rowLabel({ ty: 891, icon: "σ", title: "REALIZED VOL σ(t)", color: PUR, badge: "0 → 1",
  desc: "rolling stdev of returns · confidence / sizing input",
  value: vol[95].toFixed(2), valueColor: PUR, sub: "now" });
txt(gText, X0, 978, "SENTIMENT · −1 = market turned on wrong · +1 = confirming narrative", { size: 9.5, ls: 1, fill: "#3a3e46", blur: true });

// ---- signal rows (blurred names) ----
var signalRows = [
  { data: newsMain, ty: 992, y0: 1071, title: "NEWS · MAINSTREAM", color: "#3aa0c4", badge: "-1 → +1", desc: "25 / 24 wires · LLM-scored sentiment", icon: "sq" },
  { data: newsAlt, ty: 1089, y0: 1169, title: "NEWS · ALT / SOCIAL", color: "#33aa84", badge: "-1 → +1", desc: "X, tree of fusions, telegram · lower trust", icon: "dish" },
  { data: forum, ty: 1187, y0: 1266, title: "FORUM · RESOLUTION", color: "#3178ae", badge: "-1 → +1", desc: "how the crowd reads the resolution text", icon: "bubble" },
  { data: contrarian, ty: 1284, y0: 1362, title: "CONTRARIAN FLOW", color: "#ad4868", badge: "-1 → +1 (±3σ)", desc: "opposite price skew, z-scored · buy the fear of the crowd", icon: "bolt" },
  { data: freshWallets, ty: 1381, y0: 1458, title: "FRESH WALLETS", color: "#46aa52", badge: "0 → 1", desc: "first-time wallets · size · new money, high conviction", icon: "sprout", unit: true },
  { data: whale, ty: 1476, y0: 1556, title: "WHALE TRACKER", color: "#b08e3a", badge: "-1 → +1", desc: "known wallets, weighted by past track record", icon: "whale" }
];

function drawIcon(kind, cy) {
  var g = gText.append("g").attr("filter", "url(#blur)");
  if (kind === "sq") g.append("rect").attr("x", 91).attr("y", cy - 7).attr("width", 15).attr("height", 13).attr("rx", 2).attr("fill", "#d6d6d6");
  if (kind === "dish") g.append("ellipse").attr("cx", 99).attr("cy", cy).attr("rx", 9).attr("ry", 4).attr("transform", "rotate(45,99," + cy + ")").attr("fill", "#cfcfcf");
  if (kind === "bubble") g.append("circle").attr("cx", 98).attr("cy", cy).attr("r", 7.5).attr("fill", "#e0e0e0");
  if (kind === "bolt") g.append("rect").attr("x", 93).attr("y", cy - 3).attr("width", 6).attr("height", 6).attr("fill", "#ad4868");
  if (kind === "sprout") g.append("path").attr("d", "M92," + (cy + 6) + " L100," + (cy - 2) + " L106," + (cy - 6) + " L102," + (cy + 2) + " Z").attr("fill", "#5faa4a");
  if (kind === "whale") g.append("path").attr("d", "M90," + cy + " Q98," + (cy + 10) + " 106," + (cy - 2) + " L106," + (cy - 8) + " Q100," + (cy - 2) + " 92," + (cy - 4) + " Z").attr("fill", "#bcd0dc");
  if (kind === "warn") g.append("path").attr("d", "M99," + (cy - 6) + " L106," + (cy + 6) + " L92," + (cy + 6) + " Z").attr("fill", "#5a4090");
}

signalRows.forEach(function (r, k) {
  var y;
  if (r.unit) {
    y = d3.scaleLinear().domain([0, 1]).range([r.y0, r.y0 - 57]);
    unitTicks.forEach(function (v) { grid(y(v)); tickL(y(v), v.toFixed(1)); });
  } else {
    y = d3.scaleLinear().domain([-1, 1]).range([r.y0, r.y0 - 58]);
    signedTicks.forEach(function (v) { grid(y(v), v === 0); tickL(y(v), v > 0 ? "+1" : String(v)); });
  }
  barsRow(r.data, y, 1);
  drawIcon(r.icon, r.ty);
  var last = r.data[95];
  rowLabel({ ty: r.ty, title: r.title, color: r.color, badge: r.badge, desc: r.desc, blurTitle: true, blurDesc: true,
    weight: signalWeights[k],
    value: r.unit ? last.toFixed(2) : signed(last), valueColor: last < 0 ? RED : GRN,
    sub: r.unit ? "now" : (last < 0 ? "→ NO" : "→ YES") });
});
txt(gText, X0, 1268, "OB CROSS · options, flow & freshness", { size: 10, weight: "bold", ls: 1.5, fill: "#3a3d45", blur: true });

// ---- RISK OVERLAY ----
sectionHead(1579, "RISK OVERLAY", "#b48cf5", "pulls p̂ toward a NO / haircut");
var yS = d3.scaleLinear().domain([0, 1]).range([1673, 1620]);
tickL(yS(1) + 4, "1.0"); tickL(yS(0) + 1, "0");
gMarks.append("g").selectAll("rect").data(scam).join("rect")
  .attr("x", function (d, i) { return xc(i) - x.step() / 2; })
  .attr("width", x.step())
  .attr("y", yS(1)).attr("height", yS(0) - yS(1))
  .attr("fill", function (d) {
    if (d >= 0.6) return d3.interpolateRgb("#7a5aa8", "#8a64bb")((d - 0.6) / 0.2);
    if (d >= 0.3) return "#8a7333";
    return "#233a2b";
  })
  .attr("stroke", "#0f1013").attr("stroke-width", 1);
gMarks.append("path").attr("d", d3.line().x(function (d, i) { return xc(i); }).y(function (d) { return yS(d); }).curve(curve)(scam))
  .attr("fill", "none").attr("stroke", "#b48cf5").attr("stroke-width", 1.6);
drawIcon("warn", 1595);
rowLabel({ ty: 1595, title: "SCAM RISK", color: "#7a58c0", badge: "0 → 1",
  desc: "resolution manipulation / oracle drift probability", blurTitle: true, blurDesc: true,
  weight: signalWeights[6], value: scam[95].toFixed(2), valueColor: "#b48cf5", sub: "now" });

// ---- time axis ----
gGrid.append("line").attr("x1", X0).attr("x2", X1).attr("y1", 1684.5).attr("y2", 1684.5).attr("stroke", "#1d2026");
var xh = d3.scaleLinear().domain([0, 95]).range([xc(0), xc(95)]);
var minor = svg.append("g").attr("transform", "translate(0,1684.5)")
  .call(d3.axisBottom(xh).tickValues(d3.range(0, 96, 6)).tickSize(3).tickFormat(""));
var major = svg.append("g").attr("transform", "translate(0,1684.5)")
  .call(d3.axisBottom(xh).tickValues(dayTicks).tickSize(6).tickPadding(4)
    .tickFormat(function (d) { return dayLabels[dayTicks.indexOf(d)]; }));
[minor, major].forEach(function (a) {
  a.select(".domain").remove();
  a.selectAll("line").attr("stroke", "#2a2d33");
  a.selectAll("text").attr("fill", "#6a6f78").attr("font-size", 10);
});

// ---------- footer ----------
svg.append("line").attr("x1", 78).attr("x2", 1778).attr("y1", 1731.5).attr("y2", 1731.5).attr("stroke", "#1c1e24");
var legendItems = ["FAIR P̂ (OUTPUT)", "MARKET PRICE", "PUSHES YES", "PUSHES NO", "SCAM RISK"];
var legendColors = [YEL, BLU, GRN, RED, "#b48cf5"];
var lx = 78;
legendItems.forEach(function (s, k) {
  svg.append("rect").attr("x", lx).attr("y", 1762).attr("width", 9.5).attr("height", 9.5).attr("rx", 2).attr("fill", legendColors[k]);
  var t = txt(svg, lx + 16, 1767, s, { size: 9.5, ls: 0.85, fill: "#5a5f68", blur: k === 4 });
  lx += 16 + t.node().getComputedTextLength() + 15;
});

var noteBase = { font: SERIF, style: "italic", size: 15.5, fill: "#8a8f98", dy: 0 };
var n1 = rich(svg, [
  { t: "Every input is a single real number on a fixed range, so the " },
  { t: "market-making engine never reads a headline", fill: YEL, weight: "bold" },
  { t: " — it reads " }, { t: "p̂ − price", style: "normal", fill: "#e6e6e6" }, { t: ". Quote" }
], noteBase);
var k1 = 613 / n1.w;
n1.g.attr("transform", "translate(1777.5,1762) scale(" + k1 + ",1) translate(" + (-n1.w) + ",0)");
var n2 = rich(svg, [{ t: "around p̂, size by |edge| + vol, fade when the two lines cross." }], noteBase);
n2.g.attr("transform", "translate(1777.5,1781) scale(" + k1 + ",1) translate(" + (-n2.w) + ",0)");
</script>
</body>
</html>
